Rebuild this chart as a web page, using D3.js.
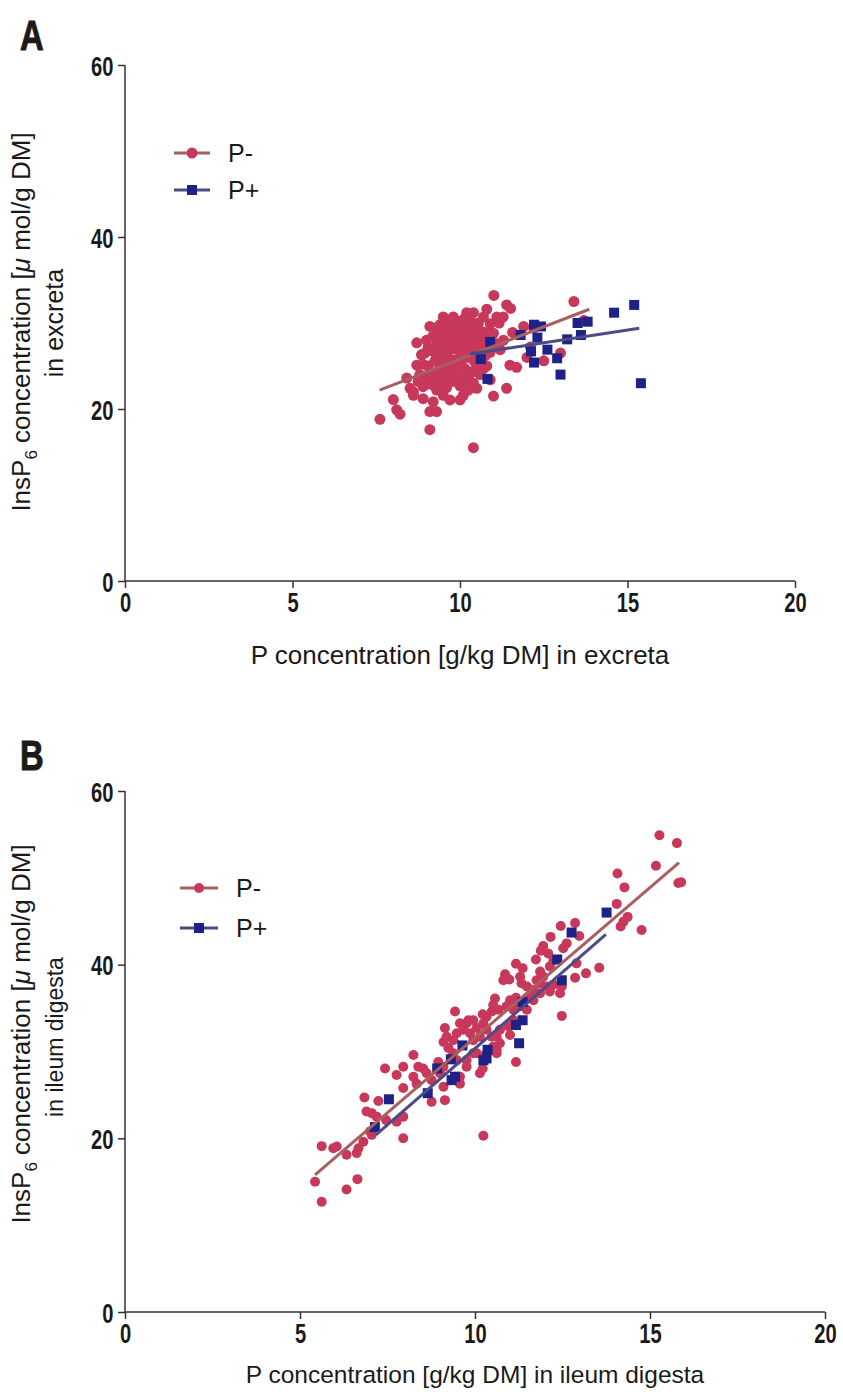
<!DOCTYPE html>
<html>
<head>
<meta charset="utf-8">
<script src="https://cdn.jsdelivr.net/npm/d3@7"></script>
<style>
  body { margin: 0; background: #fff; }
  text { font-family: "Liberation Sans", Arial, sans-serif; }
  .tick text { font-family: "Liberation Sans", Arial, sans-serif; font-weight: bold; font-size: 28px; fill: #1a1a1a; }
</style>
</head>
<body>
<script>
const xTicks = [0, 5, 10, 15, 20];
const yTicks = [0, 20, 40, 60];
const seriesNames = ["P-", "P+"];

// panel A: excreta
const excretaPminus = [
  [7.61, 18.8], [8.01, 21.1], [8.11, 19.9], [8.21, 19.4], [8.51, 22.4], [8.61, 21.6],
  [8.41, 23.6], [8.71, 25.1], [8.71, 27.7], [9.1, 17.6], [9.1, 19.7], [9.3, 19.7],
  [8.9, 21.2], [9.2, 20.85], [10.4, 15.5], [9.1, 29.6], [9.3, 29.1], [9.5, 30.7],
  [9.8, 30.7], [10.2, 31.2], [10.4, 31.2], [10.7, 30.7], [10.8, 31.6], [11.01, 33.2],
  [11.39, 32.1], [11.51, 31.7], [11.1, 30.7], [11.29, 30.7], [11.17, 30.0], [11.0, 28.8],
  [11.57, 28.9], [11.49, 25.1], [11.69, 24.85], [11.39, 22.4], [11.0, 21.5], [10.5, 22.4],
  [10.7, 24.7], [9.7, 21.05], [10.0, 21.05], [10.1, 21.6], [9.5, 21.6], [9.3, 22.2],
  [8.9, 22.6], [8.61, 22.0], [8.8, 24.0], [8.85, 26.3], [12.2, 29.4], [12.1, 27.2],
  [12.5, 25.6], [13.4, 32.5], [13.7, 30.3], [13.0, 26.5], [12.0, 26.0], [11.9, 29.6],
  [9.0, 23.5], [9.05, 25.0], [8.95, 26.5], [9.0, 28.0],
  [9.2, 22.8], [9.15, 24.2], [9.25, 25.6], [9.2, 27.0], [9.18, 28.4],
  [9.4, 23.0], [9.35, 24.5], [9.42, 25.8], [9.38, 27.3], [9.45, 28.8], [9.4, 29.8],
  [9.6, 22.5], [9.55, 23.8], [9.62, 25.1], [9.58, 26.4], [9.65, 27.6], [9.6, 28.9],
  [9.8, 23.2], [9.75, 24.4], [9.82, 25.7], [9.78, 27.0], [9.85, 28.2], [9.8, 29.5],
  [10.0, 22.7], [9.95, 24.0], [10.02, 25.3], [10.0, 26.6], [10.05, 27.9], [9.98, 29.1], [10.0, 30.2],
  [10.2, 23.4], [10.15, 24.7], [10.22, 26.0], [10.18, 27.3], [10.25, 28.6], [10.2, 29.8],
  [10.4, 23.0], [10.35, 24.3], [10.42, 25.6], [10.38, 26.9], [10.45, 28.2], [10.4, 29.4],
  [10.6, 24.0], [10.55, 25.3], [10.62, 26.6], [10.58, 27.8], [10.65, 29.0],
  [10.8, 25.0], [10.75, 26.2], [10.82, 27.5], [10.78, 28.9],
  [9.1, 24.3], [9.3, 26.2], [9.5, 24.9], [9.7, 26.9], [9.9, 25.1], [10.1, 26.3],
  [10.3, 27.6], [10.5, 26.0], [10.7, 28.2], [9.65, 29.7], [10.3, 30.4], [10.9, 29.9],
  [9.45, 22.3], [10.25, 22.2], [10.9, 23.4], [11.2, 26.9], [11.3, 28.0], [8.75, 23.2],
  [9.1, 22.9], [9.28, 23.6], [9.48, 24.1], [9.68, 23.3], [9.88, 23.9], [10.08, 23.5],
  [10.28, 24.0], [10.48, 24.8], [9.12, 26.8], [9.32, 27.8], [9.52, 26.9], [9.72, 25.7],
  [9.92, 27.4], [10.12, 28.0], [10.32, 26.5], [10.52, 27.2], [10.72, 27.0], [9.25, 29.4],
  [9.55, 28.3], [9.9, 28.7], [10.1, 29.4], [10.35, 29.0], [10.6, 28.4], [10.9, 26.6],
  [9.7, 30.2], [10.15, 30.6], [10.55, 30.0], [9.05, 27.2], [8.9, 25.2], [11.1, 27.6]
];
const excretaPplus = [
  [10.9, 27.8], [10.62, 25.8], [10.82, 23.5], [11.81, 28.6], [12.21, 29.8], [12.42, 29.6],
  [12.31, 28.3], [12.12, 26.7], [12.21, 25.4], [12.61, 26.9], [12.9, 25.9], [13.0, 24.0],
  [13.2, 28.1], [13.51, 30.0], [13.81, 30.15], [13.61, 28.6], [14.6, 31.2], [15.2, 32.1],
  [15.4, 23.0]
];
const excretaFitPminus = [[7.6, 22.2], [13.86, 31.6]];
const excretaFitPplus = [[10.3, 26.4], [15.35, 29.4]];

// panel B: ileum digesta
const ileumPminus = [
  [15.27, 54.9], [15.77, 54.0], [15.17, 51.4], [15.81, 49.4], [15.89, 49.5], [14.07, 50.5],
  [14.27, 48.9], [14.05, 47.0], [14.36, 45.5], [14.24, 44.95], [14.16, 44.4], [14.76, 44.0],
  [13.55, 39.65], [13.17, 39.0], [12.86, 38.5], [12.86, 44.8], [12.45, 44.45], [12.98, 43.3],
  [12.16, 43.2], [11.95, 42.15], [11.88, 41.6], [12.62, 42.45], [12.52, 41.9], [11.74, 40.6],
  [12.09, 41.3], [12.24, 40.5], [12.14, 39.8], [12.9, 40.15], [11.17, 40.1], [11.36, 39.6],
  [10.86, 38.9], [10.81, 38.2], [10.98, 38.3], [11.29, 38.6], [11.33, 37.85], [11.86, 39.2],
  [11.95, 38.6], [11.86, 37.85], [12.05, 37.5], [12.24, 37.7], [12.43, 36.7], [12.48, 37.5],
  [11.48, 37.5], [11.67, 37.1], [11.57, 36.3], [12.48, 34.1], [11.17, 36.2], [11.0, 35.9],
  [10.9, 35.2], [11.1, 34.8], [10.57, 36.1], [10.52, 35.35], [10.48, 34.6], [10.67, 34.8],
  [10.33, 34.0], [10.22, 34.3], [9.43, 34.6], [9.95, 33.6], [9.76, 33.25], [9.67, 32.5],
  [9.86, 32.1], [10.05, 32.7], [10.14, 31.7], [9.95, 31.3], [9.14, 32.7], [9.19, 31.7],
  [9.1, 31.1], [9.24, 30.4], [10.62, 31.7], [10.71, 30.95], [10.62, 30.2], [11.0, 31.9],
  [10.95, 32.9], [11.17, 28.8], [9.76, 28.25], [9.95, 29.8], [10.14, 27.5], [10.22, 28.05],
  [8.24, 29.6], [8.38, 28.25], [8.52, 28.05], [8.62, 27.5], [8.24, 27.1], [8.33, 26.3],
  [7.95, 28.25], [7.76, 27.3], [7.95, 25.8], [8.76, 26.7], [9.0, 27.5], [9.1, 25.95],
  [8.76, 24.2], [9.14, 24.4], [9.57, 26.3], [9.57, 27.1], [7.43, 28.05], [6.84, 24.7],
  [7.24, 24.3], [6.9, 23.1], [7.05, 22.9], [7.19, 22.5], [7.76, 21.9], [7.95, 22.5],
  [7.46, 22.1], [7.0, 20.8], [7.05, 20.4], [7.95, 20.0], [10.24, 20.3], [6.81, 19.6],
  [6.67, 18.85], [6.62, 18.3], [5.62, 19.1], [5.95, 18.85], [6.05, 19.05], [6.33, 18.1],
  [5.43, 15.0], [6.64, 15.3], [6.33, 14.1], [5.62, 12.7],
  [9.38, 29.8], [9.48, 29.0], [9.1, 28.25], [8.95, 28.8], [10.33, 29.8], [10.52, 30.55],
  [10.62, 29.8], [9.76, 29.0], [10.05, 29.8], [9.48, 32.1], [9.38, 31.3], [9.57, 33.25],
  [9.81, 33.6], [10.24, 33.25], [10.33, 32.5], [10.48, 31.7], [10.71, 32.5], [11.1, 33.6],
  [11.29, 35.2], [11.48, 34.8], [11.67, 35.9], [11.86, 36.7], [12.14, 36.9], [11.76, 38.2]
];
const ileumPplus = [
  [13.76, 46.0], [12.76, 43.7], [12.35, 40.6], [12.48, 38.2], [11.36, 35.7], [11.36, 33.6],
  [11.17, 33.05], [11.26, 30.95], [10.36, 30.2], [10.33, 29.2], [10.24, 29.0], [9.64, 30.7],
  [9.31, 29.1], [9.43, 27.1], [9.33, 26.7], [8.92, 28.05], [8.65, 25.2], [7.54, 24.5],
  [7.14, 21.3]
];
const ileumFitPminus = [[5.43, 15.8], [15.83, 51.75]];
const ileumFitPplus = [[7.17, 20.4], [13.74, 43.5]];

const colors = { pmDot: "#c8385a", pmLine: "#a6605f", ppDot: "#1e2288", ppLine: "#4b4b86" };

const svg = d3.select("body").append("svg").attr("width", 843).attr("height", 1392);

function drawPanel(p) {
  const x = d3.scaleLinear().domain([0, 20]).range([p.left, p.right]);
  const y = d3.scaleLinear().domain([0, 60]).range([p.bottom, p.top]);
  const g = svg.append("g");

  g.append("text").attr("transform", `translate(${p.letterX},${p.letterY}) scale(0.78,1)`)
    .attr("font-weight", "bold").attr("font-size", 42).attr("fill", "#1a1a1a")
    .attr("stroke", "#1a1a1a").attr("stroke-width", 1).text(p.letter);

  const xAxis = g.append("g").attr("transform", `translate(0,${p.bottom})`)
    .call(d3.axisBottom(x).tickValues(xTicks).tickSize(7).tickPadding(4));
  const yAxis = g.append("g").attr("transform", `translate(${p.left},0)`)
    .call(d3.axisLeft(y).tickValues(yTicks).tickSize(7).tickPadding(3));
  [xAxis, yAxis].forEach(a => {
    a.select(".domain").attr("stroke", "#333").attr("stroke-width", 1.5);
    a.selectAll(".tick line").attr("stroke", "#333").attr("stroke-width", 1.5);
    a.selectAll(".tick text").attr("transform", "scale(0.72,1)");
  });
  xAxis.select(".domain").attr("d", `M${p.left},0H${p.right}`);
  yAxis.select(".domain").attr("d", `M0,${p.bottom}V${p.top}`);
  xAxis.selectAll(".tick text").attr("dy", "0.71em");
  yAxis.selectAll(".tick text").attr("x", -16).attr("dy", "0.36em");

  // axis titles
  g.append("text").attr("x", (p.left + p.right) / 2).attr("y", p.xTitleY)
    .attr("text-anchor", "middle").attr("font-size", p.xTitleSize).attr("fill", "#1a1a1a")
    .text(p.xTitle);

  const yt = g.append("text").attr("transform", `translate(${p.yTitleX},${p.yTitleMid}) rotate(-90)`)
    .attr("text-anchor", "middle").attr("font-size", 26).attr("fill", "#1a1a1a");
  yt.append("tspan").text("InsP");
  yt.append("tspan").attr("font-size", 17).attr("dy", 7).text("6");
  yt.append("tspan").attr("dy", -7).text(" concentration [");
  yt.append("tspan").attr("font-style", "italic").text("\u03bc");
  yt.append("tspan").text(" mol/g DM]");
  g.append("text").attr("transform", `translate(${p.yTitleX + 33},${p.yTitleMid2}) rotate(-90)`)
    .attr("text-anchor", "middle").attr("font-size", p.yTitle2Size).attr("fill", "#1a1a1a")
    .text(p.yTitle2);

  // points
  g.append("g").selectAll("circle").data(p.pm).enter().append("circle")
    .attr("cx", d => x(d[0])).attr("cy", d => y(d[1])).attr("r", p.r)
    .attr("fill", colors.pmDot);
  g.append("g").selectAll("rect").data(p.pp).enter().append("rect")
    .attr("x", d => x(d[0]) - p.sq / 2).attr("y", d => y(d[1]) - p.sq / 2)
    .attr("width", p.sq).attr("height", p.sq).attr("fill", colors.ppDot);

  const line = d3.line().x(d => x(d[0])).y(d => y(d[1]));
  g.append("path").datum(p.fitPm).attr("d", line).attr("fill", "none")
    .attr("stroke", colors.pmLine).attr("stroke-width", 3);
  g.append("path").datum(p.fitPp).attr("d", line).attr("fill", "none")
    .attr("stroke", colors.ppLine).attr("stroke-width", 3);

  // legend
  const lg = g.append("g").attr("transform", `translate(${p.legX},${p.legY})`);
  seriesNames.forEach((name, i) => {
    const row = lg.append("g").attr("transform", `translate(0,${i * p.legGap})`);
    row.append("line").attr("x1", 0).attr("x2", p.legLen).attr("y1", 0).attr("y2", 0)
      .attr("stroke", i === 0 ? colors.pmLine : colors.ppLine).attr("stroke-width", 3);
    if (i === 0) {
      row.append("circle").attr("cx", p.legLen / 2).attr("cy", 0).attr("r", p.r).attr("fill", colors.pmDot);
    } else {
      row.append("rect").attr("x", p.legLen / 2 - p.sq / 2).attr("y", -p.sq / 2)
        .attr("width", p.sq).attr("height", p.sq).attr("fill", colors.ppDot);
    }
    row.append("text").attr("x", p.legLen + 18).attr("y", 9).attr("font-size", 25)
      .attr("fill", "#1a1a1a").text(name);
  });
}

drawPanel({
  letter: "A", letterX: 20, letterY: 50,
  left: 125, right: 795, top: 65, bottom: 581,
  xTitle: "P concentration [g/kg DM] in excreta", xTitleY: 664, xTitleSize: 26,
  yTitleX: 30, yTitleMid: 322, yTitleMid2: 323, yTitle2: "in excreta", yTitle2Size: 25,
  pm: excretaPminus, pp: excretaPplus, fitPm: excretaFitPminus, fitPp: excretaFitPplus,
  r: 5.5, sq: 10,
  legX: 174, legY: 153, legLen: 36, legGap: 37
});

drawPanel({
  letter: "B", letterX: 20, letterY: 770,
  left: 125, right: 825, top: 791, bottom: 1312,
  xTitle: "P concentration [g/kg DM] in ileum digesta", xTitleY: 1383, xTitleSize: 24.5,
  yTitleX: 30, yTitleMid: 1034, yTitleMid2: 1037, yTitle2: "in ileum digesta", yTitle2Size: 23,
  pm: ileumPminus, pp: ileumPplus, fitPm: ileumFitPminus, fitPp: ileumFitPplus,
  r: 5, sq: 10,
  legX: 180, legY: 888, legLen: 38, legGap: 40
});
</script>
</body>
</html>
